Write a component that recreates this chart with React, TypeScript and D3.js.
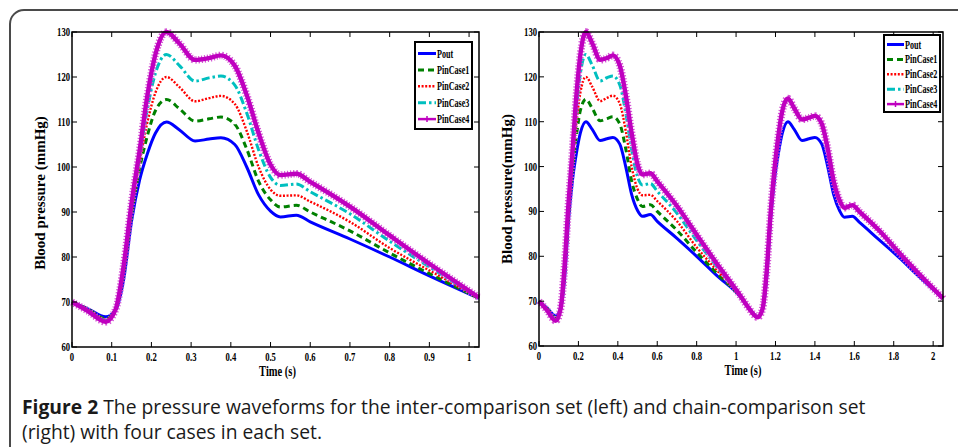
import React from 'react';
import * as d3 from 'd3';

const W = 958;
const H = 447;

// first heart cycle, used in both panels
const t1 = [0, 0.04, 0.085, 0.11, 0.13, 0.15, 0.17, 0.19, 0.21, 0.238, 0.27, 0.31, 0.345, 0.375, 0.41, 0.44, 0.47, 0.5, 0.525, 0.565, 0.6, 0.7, 0.8, 0.9, 1.025];
const pout1 = [70, 68.5, 66.7, 68.3, 75, 88, 97, 103, 107.5, 110, 108.3, 105.8, 106.2, 106.5, 105, 100, 93.8, 90.2, 88.9, 89.3, 87.8, 84, 80, 75.8, 70.8];
const pinCase1 = [70, 68.4, 66.3, 68.4, 76.5, 89.5, 99.5, 107, 112.5, 115, 113, 110.2, 110.7, 111.1, 109.5, 104, 96.8, 92.7, 91.1, 91.5, 90, 85.8, 80.9, 76.3, 70.8];
const pinCase2 = [70, 68.3, 66.1, 68.4, 77, 90.3, 101, 110, 116.5, 120, 117.8, 114.6, 115.3, 115.8, 114, 108, 100, 95, 93.6, 93.7, 92.3, 87.8, 82, 77, 70.9];
const pinCase3 = [70, 68.2, 65.9, 68.4, 77.5, 91.2, 102.3, 113, 120.8, 125, 122.6, 119.1, 119.8, 120.2, 118.2, 112, 103.8, 97.7, 95.9, 96.2, 94.5, 89.6, 83.5, 77.8, 71];
const pinCase4 = [70, 68, 65.6, 68.4, 78, 92, 103.5, 116, 125, 130, 127.5, 123.8, 124.2, 124.8, 122.5, 116, 107.5, 100.5, 98.2, 98.5, 96.7, 91.2, 84.8, 78.5, 71];

// second heart cycle of the chain set (right panel); the four Pin cases coincide
const t2 = [1.065, 1.11, 1.135, 1.155, 1.175, 1.195, 1.215, 1.235, 1.263, 1.295, 1.335, 1.37, 1.4, 1.435, 1.465, 1.495, 1.525, 1.55, 1.59, 1.625, 1.725, 1.825, 1.925, 2.05];
const pout2 = [68.5, 66.5, 68.3, 75, 88, 97, 103, 107.5, 110, 108.3, 105.8, 106.2, 106.5, 105, 100, 93.8, 90.2, 88.7, 88.9, 87.6, 83.7, 79.8, 75.6, 70.6];
const pin2 = [68.4, 66.4, 68.4, 76.5, 89.5, 99.5, 107, 112.5, 115.2, 113, 110.5, 110.9, 111.3, 109.5, 104, 96.8, 92.5, 90.8, 91.4, 90, 85.8, 80.9, 76.2, 70.6];

const seriesNames = ['Pout', 'PinCase1', 'PinCase2', 'PinCase3', 'PinCase4'];
const leftValues = [pout1, pinCase1, pinCase2, pinCase3, pinCase4];
const rightValues = [
  pout1.concat(pout2),
  pinCase1.concat(pin2),
  pinCase2.concat(pin2),
  pinCase3.concat(pin2),
  pinCase4.concat(pin2),
];
const rightTimes = t1.concat(t2);

const leftXTicks = [0, 0.1, 0.2, 0.3, 0.4, 0.5, 0.6, 0.7, 0.8, 0.9, 1];
const rightXTicks = [0, 0.2, 0.4, 0.6, 0.8, 1, 1.2, 1.4, 1.6, 1.8, 2];
const yTicks = [60, 70, 80, 90, 100, 110, 120, 130];

const styles = [
  { color: '#0000ff', width: 3, dash: null },
  { color: '#008000', width: 3, dash: '6,4' },
  { color: '#ff0000', width: 2.4, dash: '2,1.6' },
  { color: '#00bfbf', width: 3, dash: '8,3,2.5,3' },
  { color: '#bf00bf', width: 4.4, dash: null },
];

const serif = '"Liberation Serif", "Times New Roman", serif';
const sans = '"Open Sans", "Noto Sans", sans-serif';

// squeezed bold serif text, like the matlab export
const SText = ({ x, y, sx = 0.72, size = 12, anchor = 'start', children }) => (
  <text
    transform={`translate(${x},${y}) scale(${sx},1)`}
    fontFamily={serif}
    fontWeight="bold"
    fontSize={size}
    textAnchor={anchor}
    fill="#000"
  >
    {children}
  </text>
);

const Panel = ({ box, xMax, xTicks, times, values, yLabel, yLabelY, legend }) => {
  const x = d3.scaleLinear().domain([0, xMax]).range([box.x0, box.x1]);
  const y = d3.scaleLinear().domain([60, 130]).range([box.y1, box.y0]);
  const line = d3.line<number>()
    .x((_, i) => x(times[i]))
    .y(d => y(d))
    .curve(d3.curveMonotoneX);
  const tk = 5;

  return (
    <g>
      {/* curves */}
      {values.map((vals, i) => {
        const s = styles[i];
        const d = line(vals);
        return (
          <g key={seriesNames[i]}>
            {i === 4 && (
              <path d={d} fill="none" stroke="#d455d4" strokeWidth={7.5} strokeDasharray="1.2,1.8" />
            )}
            <path
              d={d}
              fill="none"
              stroke={s.color}
              strokeWidth={s.width}
              strokeDasharray={s.dash || undefined}
              strokeLinejoin="round"
            />
          </g>
        );
      })}

      {/* axes box */}
      <rect x={box.x0} y={box.y0} width={box.x1 - box.x0} height={box.y1 - box.y0} fill="none" stroke="#000" strokeWidth={1.5} />

      {xTicks.map(t => (
        <g key={'x' + t}>
          <line x1={x(t)} x2={x(t)} y1={box.y1} y2={box.y1 - tk} stroke="#000" />
          <line x1={x(t)} x2={x(t)} y1={box.y0} y2={box.y0 + tk} stroke="#000" />
          <SText x={x(t)} y={box.y1 + 14} anchor="middle">{d3.format('~g')(t)}</SText>
        </g>
      ))}
      {yTicks.map(v => (
        <g key={'y' + v}>
          <line x1={box.x0} x2={box.x0 + tk} y1={y(v)} y2={y(v)} stroke="#000" />
          <line x1={box.x1} x2={box.x1 - tk} y1={y(v)} y2={y(v)} stroke="#000" />
          <SText x={box.x0 - 2} y={y(v) + 4} anchor="end">{v}</SText>
        </g>
      ))}

      <SText x={(box.x0 + box.x1) / 2 + 2} y={box.y1 + 29} anchor="middle" size={15} sx={0.7}>Time (s)</SText>
      <text
        transform={`translate(${box.x0 - 27},${yLabelY}) rotate(-90)`}
        fontFamily={serif}
        fontWeight="bold"
        fontSize={15}
        textAnchor="middle"
      >
        {yLabel}
      </text>

      {/* legend */}
      <rect x={legend.x} y={legend.y} width={legend.w} height={legend.h} fill="#fff" stroke="#000" strokeWidth={2} />
      {seriesNames.map((name, i) => {
        const s = styles[i];
        const cy = legend.row0 + i * legend.step;
        const lx0 = legend.x + 3;
        const lx1 = legend.x + legend.lineW;
        return (
          <g key={name}>
            <line x1={lx0} x2={lx1} y1={cy} y2={cy} stroke={s.color} strokeWidth={i === 4 ? 2.5 : s.width} strokeDasharray={s.dash || undefined} />
            {i === 4 && (
              <path d={`M${(lx0 + lx1) / 2 - 3},${cy}h6M${(lx0 + lx1) / 2},${cy - 3}v6`} stroke={s.color} strokeWidth={1.5} />
            )}
            <SText x={lx1 + 1} y={cy + 4} size={13.5} sx={0.6}>{name}</SText>
          </g>
        );
      })}
    </g>
  );
};

const App = () => {
  return (
    <div style={{ position: 'fixed', left: 0, top: 0 }}>
      <svg width={W} height={H} style={{ display: 'block', background: '#fff' }}>
        <rect x={10} y={10} width={1000} height={600} rx={14} fill="#fff" stroke="#4a4a4a" strokeWidth={2} />
        <Panel
          box={{ x0: 72, x1: 479, y0: 32, y1: 347 }}
          xMax={1.025}
          xTicks={leftXTicks}
          times={t1}
          values={leftValues}
          yLabel="Blood pressure (mmHg)"
          yLabelY={193}
          legend={{ x: 415, y: 42, w: 57, h: 87, row0: 53.5, step: 16.4, lineW: 21 }}
        />
        <Panel
          box={{ x0: 539, x1: 943, y0: 32, y1: 346 }}
          xMax={2.05}
          xTicks={rightXTicks}
          times={rightTimes}
          values={rightValues}
          yLabel="Blood pressure(mmHg)"
          yLabelY={189}
          legend={{ x: 884, y: 35, w: 56, h: 77, row0: 44.5, step: 14.9, lineW: 20 }}
        />
        <text x={22} y={414} fontFamily={sans} fontSize={19.3} fill="#1a1a1a">
          <tspan fontWeight="bold">Figure 2</tspan> The pressure waveforms for the inter-comparison set (left) and chain-comparison set
        </text>
        <text x={22} y={439} fontFamily={sans} fontSize={19.3} fill="#1a1a1a">
          (right) with four cases in each set.
        </text>
      </svg>
    </div>
  );
};

export default App;
